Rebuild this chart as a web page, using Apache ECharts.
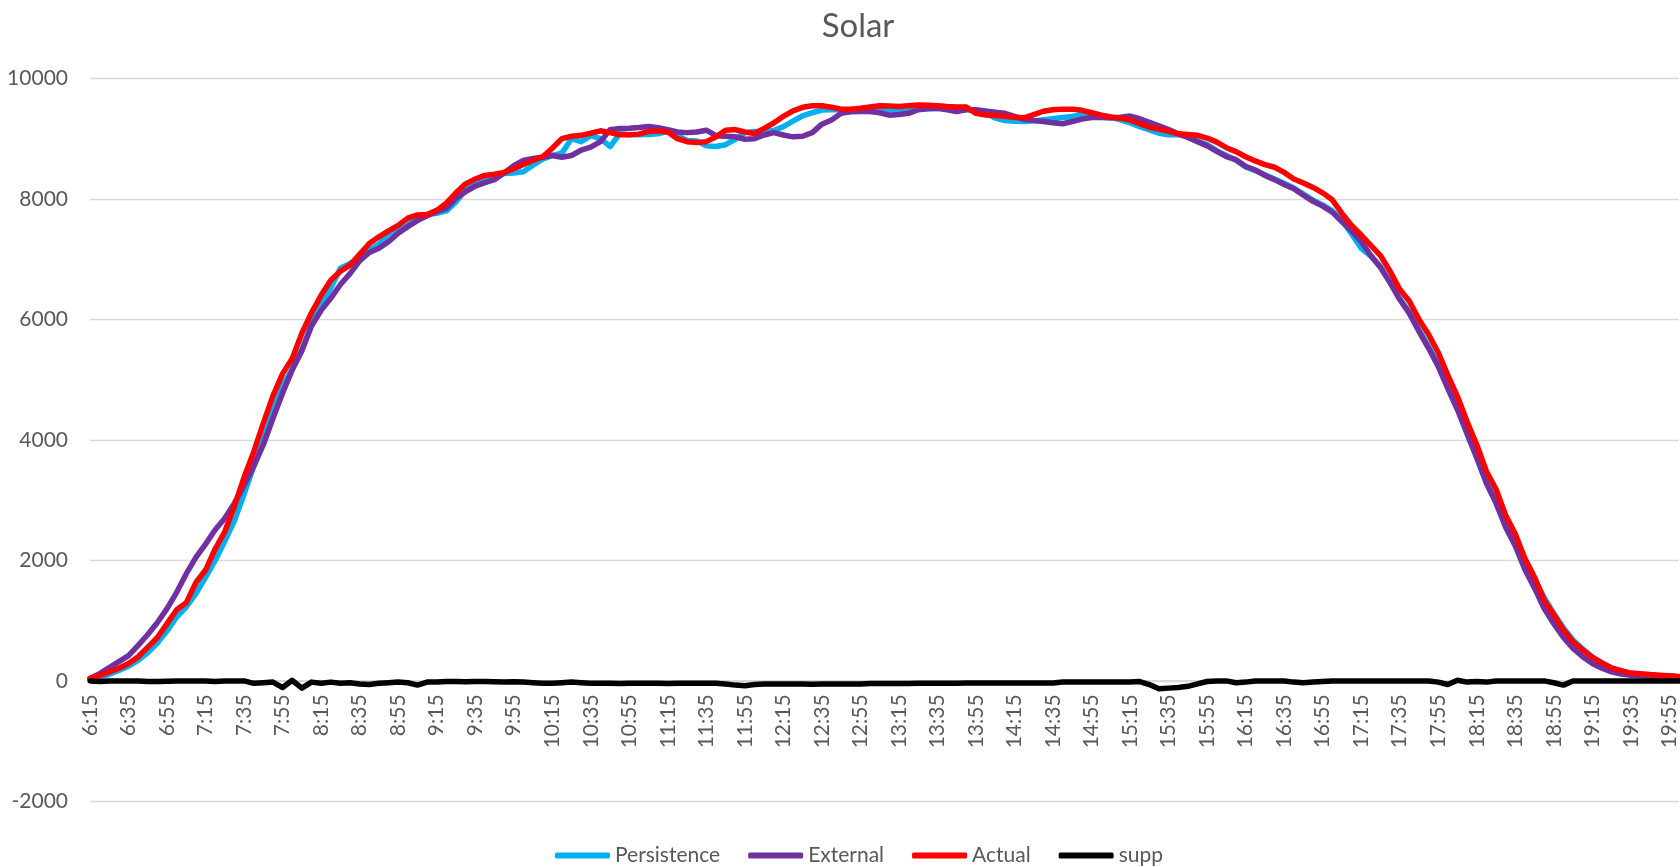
<!DOCTYPE html>
<html>
<head>
<meta charset="utf-8">
<title>Solar</title>
<script src="https://cdn.jsdelivr.net/npm/echarts@6/dist/echarts.min.js"></script>
<style>
  html, body { margin: 0; padding: 0; background: #fff; }
  #chart { width: 1680px; height: 867px; }
</style>
</head>
<body>
<div id="chart"></div>
<script>
// 5-minute slots, 6:15 .. 20:00
var times = [];
for (var m = 6 * 60 + 15; m <= 20 * 60; m += 5) {
  times.push(Math.floor(m / 60) + ':' + String(m % 60).padStart(2, '0'));
}

var persistence = [
  40, 60, 110, 175, 245, 340, 470, 630, 830, 1060, 1230, 1450, 1720, 2000, 2320, 2660,
  3100, 3560, 4000, 4480, 4900, 5180, 5500, 5920, 6250, 6520, 6850, 6930, 7000, 7150,
  7250, 7420, 7480, 7560, 7700, 7740, 7760, 7800, 7950, 8150, 8290, 8360, 8400, 8420,
  8430, 8450, 8560, 8660, 8720, 8760, 9000, 8950, 9050, 9000, 8870, 9080, 9064, 9064,
  9070, 9080, 9120, 9050, 8970, 8960, 8880, 8870, 8900, 8990, 9100, 9119, 9119, 9135,
  9200, 9290, 9380, 9430, 9475, 9480, 9480, 9470, 9480, 9485, 9480, 9475, 9470, 9470,
  9490, 9500, 9505, 9500, 9495, 9490, 9460, 9420, 9340, 9300, 9290, 9285, 9295, 9313,
  9330, 9350, 9368, 9400, 9420, 9390, 9357, 9310, 9260, 9200, 9147, 9090, 9064, 9070,
  9040, 8960, 8900, 8800, 8720, 8640, 8530, 8470, 8400, 8330, 8260, 8180, 8080, 7980,
  7900, 7800, 7650, 7420, 7180, 7050, 6880, 6620, 6350, 6120, 5830, 5560, 5250, 4890,
  4540, 4140, 3750, 3320, 3000, 2600, 2290, 1900, 1700, 1380, 1120, 880, 680, 530,
  400, 300, 210, 160, 125, 105, 95, 85, 80, 70
];

var external = [
  40, 120, 220, 320, 420, 590, 770, 970, 1200, 1470, 1780, 2050, 2270, 2510, 2700, 2950,
  3250, 3560, 3920, 4360, 4780, 5160, 5480, 5890, 6150, 6350, 6580, 6760, 6970, 7110,
  7180, 7290, 7430, 7540, 7640, 7720, 7790, 7845, 8011, 8120, 8210, 8270, 8320, 8430,
  8550, 8640, 8670, 8690, 8720, 8690, 8720, 8810, 8860, 8950, 9150, 9170, 9174, 9185,
  9200, 9180, 9150, 9110, 9100, 9110, 9140, 9050, 9040, 9030, 8990, 9000, 9060, 9100,
  9060, 9030, 9040, 9100, 9240, 9310, 9420, 9445, 9452, 9452, 9430, 9390, 9400, 9420,
  9480, 9495, 9505, 9480, 9452, 9480, 9480, 9460, 9440, 9420, 9370, 9320, 9300, 9285,
  9265, 9247, 9285, 9324, 9350, 9350, 9341, 9355, 9375, 9330, 9270, 9213, 9150, 9080,
  9020, 8950, 8880, 8790, 8700, 8650, 8540, 8480, 8390, 8320, 8240, 8170, 8060, 7960,
  7880, 7780, 7620, 7470, 7290, 7060, 6860, 6610, 6330, 6100, 5800, 5520, 5220, 4850,
  4500, 4100, 3700, 3280, 2950, 2550, 2240, 1850, 1540, 1200, 950, 720, 540, 400,
  290, 210, 150, 115, 95, 85, 75, 70, 65, 60
];

var actual = [
  40, 90, 150, 210, 290, 400, 560, 720, 950, 1180, 1300, 1633, 1840, 2190, 2480, 2900,
  3380, 3800, 4280, 4730, 5100, 5350, 5770, 6110, 6400, 6650, 6800, 6900, 7080, 7260,
  7370, 7470, 7560, 7680, 7734, 7740, 7810, 7928, 8100, 8250, 8330, 8390, 8410, 8440,
  8500, 8570, 8640, 8700, 8840, 9000, 9040, 9055, 9090, 9130, 9100, 9064, 9064, 9075,
  9120, 9130, 9110, 9000, 8950, 8936, 8950, 9030, 9140, 9150, 9110, 9085, 9170, 9260,
  9370, 9460, 9520, 9546, 9546, 9520, 9490, 9490, 9505, 9525, 9546, 9540, 9535, 9545,
  9558, 9555, 9546, 9532, 9524, 9524, 9420, 9392, 9384, 9370, 9355, 9345, 9400, 9455,
  9480, 9490, 9490, 9470, 9430, 9390, 9360, 9340, 9310, 9250, 9190, 9160, 9120, 9080,
  9070, 9055, 9010, 8942, 8850, 8785, 8700, 8630, 8570, 8525, 8440, 8330, 8265, 8190,
  8100, 7985, 7760, 7560, 7400, 7230, 7060, 6800, 6500, 6300, 6000, 5750, 5450, 5070,
  4720, 4300, 3920, 3480, 3180, 2750, 2440, 2030, 1720, 1340, 1100, 850, 650, 515,
  390, 300, 215, 170, 130, 120, 105, 95, 85, 72
];

var supp = [
  0, -10, 0, 0, 0, 0, -10, -10, -5, 0, 0, 0, 0, -10, 0, 0,
  0, -40, -30, -20, -110, 10, -120, -20, -40, -20, -40, -30, -50, -60,
  -40, -30, -20, -30, -70, -20, -20, -10, -10, -15, -10, -10, -15, -20,
  -15, -20, -30, -40, -40, -30, -20, -30, -40, -40, -40, -45, -40, -40,
  -40, -40, -45, -40, -40, -40, -40, -40, -50, -70, -80, -60, -50, -50,
  -50, -50, -50, -55, -50, -50, -50, -50, -50, -45, -45, -45, -45, -45,
  -40, -40, -40, -40, -40, -35, -35, -35, -35, -35, -35, -35, -35, -35,
  -35, -20, -20, -20, -20, -20, -20, -20, -20, -10, -60, -130, -120, -110,
  -90, -50, -10, 0, 0, -30, -20, 0, 0, 0, 0, -20, -30, -20,
  -10, 0, 0, 0, 0, 0, 0, 0, 0, 0, 0, 0, -20, -60,
  10, -20, -10, -20, 0, 0, 0, 0, 0, 0, -30, -70, 0, 0,
  0, 0, 0, 0, 0, 0, 0, 0, 0, 0
];

var names = ['Persistence', 'External', 'Actual', 'supp'];
var colors = ['#00B0F0', '#7030A0', '#FF0000', '#000000'];
var values = [persistence, external, actual, supp];

var font = 'Lato, "Noto Sans", sans-serif';
var textGrey = '#595959';

// plot box: 10000 at y=78.4, -2000 at y=801.4, so the zero line sits 121px above the bottom
var gridTop = 78.4;
var gridBottom = 65.6;
var zeroOffset = -121;

var chart = echarts.init(document.getElementById('chart'));
chart.setOption({
  animation: false,
  backgroundColor: '#ffffff',
  color: colors,
  title: {
    text: 'Solar',
    left: 853,
    textAlign: 'center',
    top: 5,
    textStyle: { fontFamily: font, fontSize: 33, fontWeight: 'normal', color: textGrey }
  },
  legend: {
    data: names,
    left: 550,
    top: 840,
    icon: 'roundRect',
    itemWidth: 55,
    itemHeight: 6,
    itemGap: 28,
    textStyle: { fontFamily: font, fontSize: 21, color: textGrey }
  },
  grid: { left: 90, right: 1, top: gridTop, bottom: gridBottom },
  xAxis: {
    type: 'category',
    data: times,
    boundaryGap: false,
    offset: zeroOffset,
    axisLine: { show: true, onZero: false, lineStyle: { color: '#D9D9D9', width: 1 } },
    axisTick: { show: false },
    axisLabel: {
      interval: 3,
      rotate: 90,
      margin: 14,
      fontFamily: font,
      fontSize: 21,
      color: textGrey
    }
  },
  yAxis: {
    type: 'value',
    min: -2000,
    max: 10000,
    interval: 2000,
    axisLine: { show: false },
    axisTick: { show: false },
    axisLabel: {
      margin: 22,
      fontFamily: font,
      fontSize: 21,
      color: textGrey,
      formatter: function (v) { return String(v); }
    },
    splitLine: { lineStyle: { color: '#D9D9D9', width: 1.3 } }
  },
  series: names.map(function (n, k) {
    return {
      name: n,
      type: 'line',
      data: values[k],
      symbol: 'none',
      lineStyle: { width: 5.5, color: colors[k], cap: 'round', join: 'round' }
    };
  })
});
</script>
</body>
</html>
